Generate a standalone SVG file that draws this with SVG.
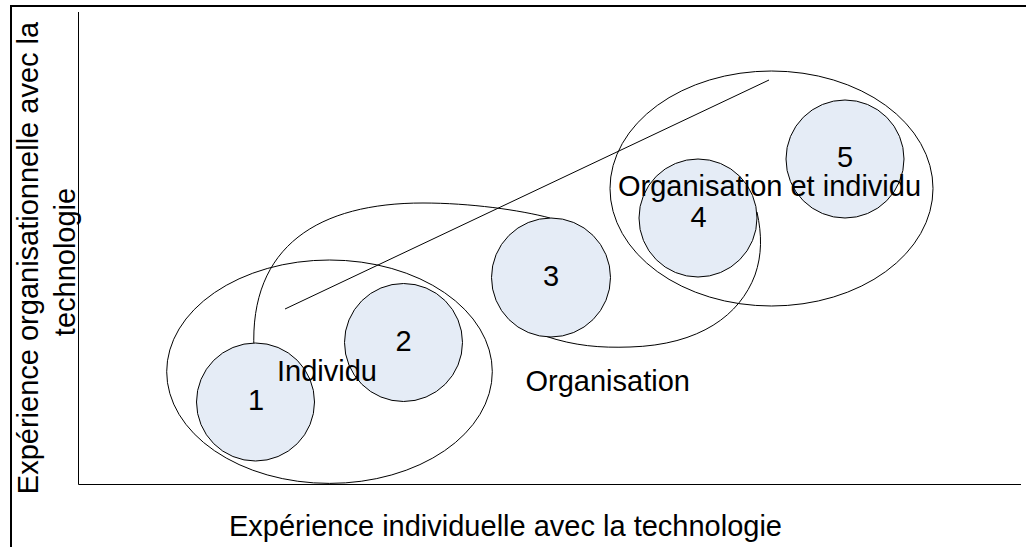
<svg xmlns="http://www.w3.org/2000/svg" width="1026" height="547" viewBox="0 0 1026 547">
<style>
.t{font-family:"Liberation Sans",Arial,sans-serif;font-size:29px;fill:#000}
.m{text-anchor:middle}
.zone{fill:none;stroke:#000;stroke-width:1}
.stage{fill:#E5ECF6;stroke:#000;stroke-width:1}
.ax{fill:none;stroke:#000;stroke-width:1}
</style>
<rect width="1026" height="547" fill="#fff"/>
<g id="frame">
<path d="M11,547 V6 H1026" fill="none" stroke="#000" stroke-width="2"/>
</g>
<g id="axes">
<path class="ax" d="M78.5,12 V484.5 H1021"/>
<text class="t m" x="505.5" y="536">Expérience individuelle avec la technologie</text>
<text class="t m" transform="translate(38,258) rotate(-90)">Expérience organisationnelle avec la</text>
<text class="t m" transform="translate(75,262) rotate(-90)">technologie</text>
</g>
<g id="zone-individu">
<ellipse class="zone" cx="329.5" cy="371.7" rx="162.8" ry="111.7"/>
</g>
<g id="zone-organisation">
<path class="zone" d="M254,350 C249,245 320,203 423,203 C470,203 520,210 550,218 L545,336 C575,346 600,348 630,347 C700,345 740,315 755,275 C762,255 762,235 757,212"/>
</g>
<g id="zone-organisation-individu">
<ellipse class="zone" cx="771.5" cy="188.5" rx="161.5" ry="117.5"/>
</g>
<g id="connectors">
<line x1="285" y1="309" x2="769" y2="80" stroke="#000" stroke-width="1"/>
</g>
<g id="stage-1">
<circle class="stage" cx="255.5" cy="402" r="59"/>
<text class="t m" x="256" y="410">1</text>
</g>
<g id="stage-2">
<circle class="stage" cx="403.5" cy="342.5" r="59"/>
<text class="t m" x="403.5" y="351">2</text>
</g>
<g id="stage-3">
<circle class="stage" cx="551" cy="277.5" r="59.5"/>
<text class="t m" x="551" y="286">3</text>
</g>
<g id="stage-4">
<circle class="stage" cx="698" cy="218" r="59"/>
<text class="t m" x="698.5" y="226.5">4</text>
</g>
<g id="stage-5">
<circle class="stage" cx="845" cy="159" r="59"/>
<text class="t m" x="845" y="167">5</text>
</g>
<g id="zone-labels">
<text class="t" x="277" y="381">Individu</text>
<text class="t" x="525.5" y="391">Organisation</text>
<text class="t" x="618" y="196">Organisation et individu</text>
</g>
</svg>
